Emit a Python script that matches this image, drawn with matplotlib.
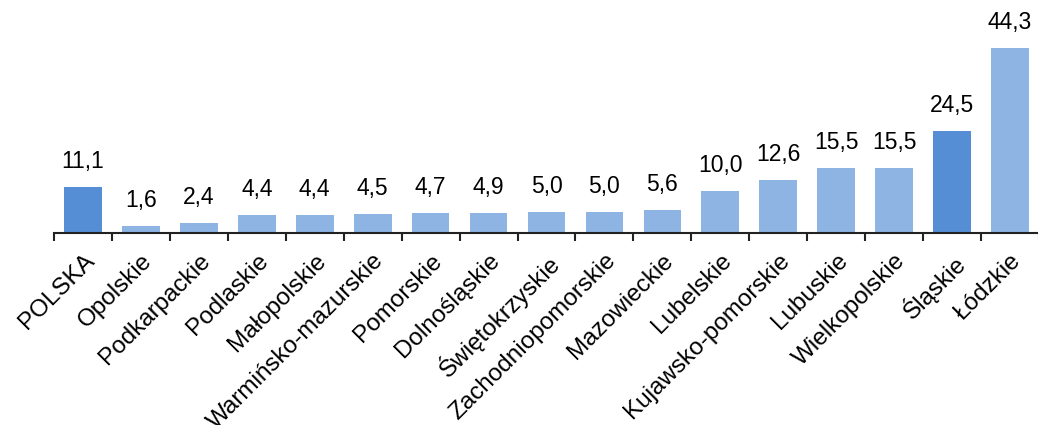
import matplotlib.pyplot as plt
import numpy as np

plt.rcParams['font.family'] = ['Liberation Sans', 'DejaVu Sans']

regions = ["POLSKA", "Opolskie", "Podkarpackie", "Podlaskie", "Małopolskie",
           "Warmińsko-mazurskie", "Pomorskie", "Dolnośląskie", "Świętokrzyskie",
           "Zachodniopomorskie", "Mazowieckie", "Lubelskie", "Kujawsko-pomorskie",
           "Lubuskie", "Wielkopolskie", "Śląskie", "Łódzkie"]
values = [11.1, 1.6, 2.4, 4.4, 4.4, 4.5, 4.7, 4.9, 5.0, 5.0, 5.6, 10.0, 12.6,
          15.5, 15.5, 24.5, 44.3]
highlight = ["POLSKA", "Śląskie"]

dark = "#558ED5"
light = "#8EB4E3"
colors = [dark if r in highlight else light for r in regions]

fig = plt.figure(figsize=(10.38, 4.25), dpi=100)
ax = fig.add_axes([54 / 1038, 1 - 233 / 425, 985 / 1038, 233 / 425])

x = np.arange(len(regions))
bars = ax.bar(x, values, width=0.65, color=colors)

for xi, v in zip(x, values):
    ax.annotate(f"{v:.1f}".replace(".", ","), (xi, v), xytext=(0, 10),
                textcoords="offset points", ha="center", va="bottom", fontsize=16.5)

ax.set_xlim(-0.5, len(regions) - 0.5)
ax.set_ylim(0, 55.7)

for s in ["top", "right", "left"]:
    ax.spines[s].set_visible(False)
ax.spines["bottom"].set_linewidth(1.5)
ax.spines["bottom"].set_color("#222222")
ax.set_yticks([])

ax.set_xticks(x)
ax.set_xticklabels(regions, rotation=45, ha="right", rotation_mode="anchor", fontsize=17.5)
ax.tick_params(axis="x", which="major", length=0, pad=12)
ax.set_xticks(np.arange(-0.5, len(regions), 1), minor=True)
ax.tick_params(axis="x", which="minor", length=6, width=1.5, color="#222222")

plt.savefig("out.png", dpi=100)
